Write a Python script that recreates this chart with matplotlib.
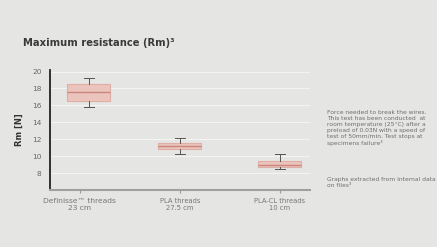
import matplotlib
matplotlib.use('Agg')
import matplotlib.pyplot as plt

# data
labels = ['Definisse\u2122 threads\n23 cm', 'PLA threads\n27.5 cm', 'PLA-CL threads\n10 cm']
medians = [17.6, 11.2, 9.0]
q1 = [16.5, 10.8, 8.7]
q3 = [18.5, 11.6, 9.4]
whislo = [15.8, 10.3, 8.5]
whishi = [19.3, 12.2, 10.3]
yticks = [8, 10, 12, 14, 16, 18, 20]

note1 = ('Force needed to break the wires.\nThis test has been conducted  at\n'
         'room temperature (25\u00b0C) after a\npreload of 0.03N with a speed of\n'
         'test of 50mm/min. Test stops at\nspecimens failure\u00b3')
note2 = 'Graphs extracted from Internal data\non files\u00b3'

bg = '#e5e5e3'
fig = plt.figure(figsize=(4.37, 2.47), dpi=100, facecolor=bg)
ax = fig.add_axes([0.114, 0.231, 0.595, 0.486], facecolor=bg)

stats = []
for i in range(len(labels)):
    stats.append({'med': medians[i], 'q1': q1[i], 'q3': q3[i],
                  'whislo': whislo[i], 'whishi': whishi[i], 'fliers': []})

# first box sits a little right of its tick in the original slide
ax.bxp(stats, positions=[0.09, 1, 2], widths=0.43, patch_artist=True,
       showfliers=False, capwidths=0.1,
       boxprops=dict(facecolor='#ebc5bd', edgecolor='#e0aea4', linewidth=0.8),
       medianprops=dict(color='#c9877c', linewidth=1.0),
       whiskerprops=dict(color='#555555', linewidth=0.7),
       capprops=dict(color='#555555', linewidth=0.7), zorder=3)

ax.set_xlim(-0.3, 2.3)
ax.set_ylim(6, 20.2)
ax.set_yticks(yticks)
ax.set_xticks([0, 1, 2])
ax.set_xticklabels(labels)
ax.yaxis.grid(True, color='#f4f4f2', linewidth=0.8)
ax.set_axisbelow(True)

for s in ['top', 'right']:
    ax.spines[s].set_visible(False)
ax.spines['left'].set_color('#222222')
ax.spines['left'].set_linewidth(1.3)
ax.spines['bottom'].set_color('#a0a09e')
ax.spines['bottom'].set_linewidth(1.5)

ax.tick_params(axis='y', length=0, labelsize=5.3, labelcolor='#666666', pad=6)
ax.tick_params(axis='x', length=2, color='#999999', labelsize=4.9,
               labelcolor='#777777', pad=4)
ax.get_xticklabels()[0].set_fontsize(5.4)

ax.set_ylabel('Rm [N]', fontsize=6, fontweight='bold', color='#333333', labelpad=6)

fig.text(0.053, 0.825, 'Maximum resistance (Rm)\u00b3', fontsize=7.2, fontweight='bold',
         color='#3a3a3a', va='center')
fig.text(0.748, 0.555, note1, fontsize=4.3, color='#6e6e6e', va='top', linespacing=1.25)
fig.text(0.748, 0.285, note2, fontsize=4.3, color='#6e6e6e', va='top', linespacing=1.25)

fig.savefig('out.png', dpi=100, facecolor=bg)
